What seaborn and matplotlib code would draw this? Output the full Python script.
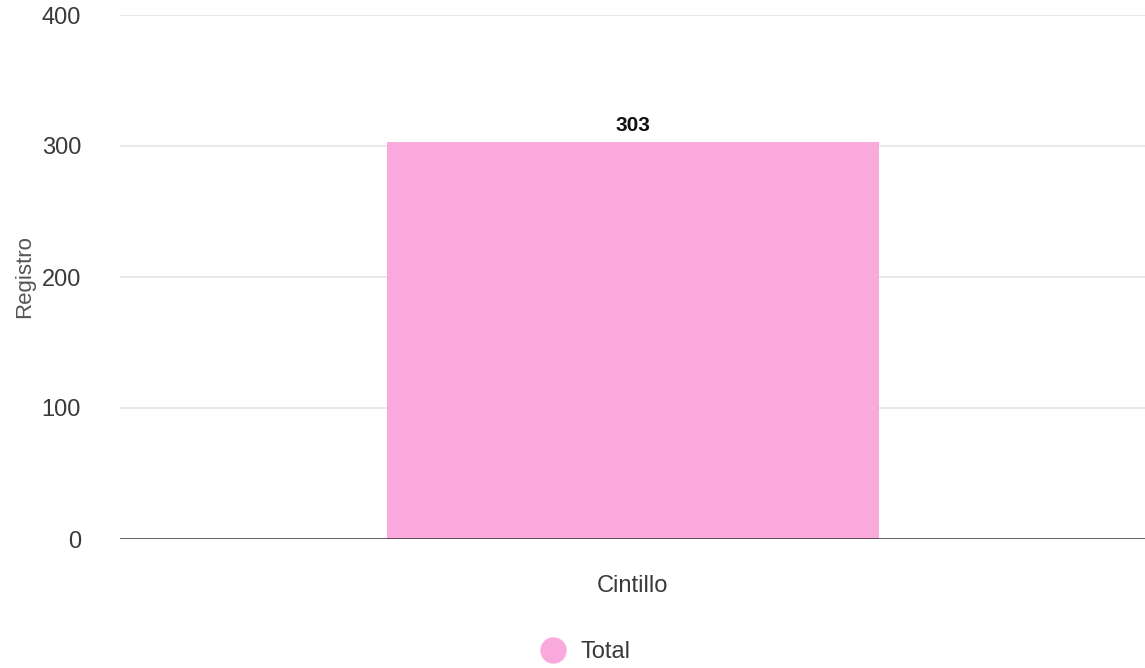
import matplotlib
matplotlib.use("Agg")
import matplotlib.pyplot as plt
import seaborn as sns
import pandas as pd
from matplotlib.lines import Line2D

categories = ["Cintillo"]
values = [303]
series_name = "Total"
y_ticks = [0, 100, 200, 300, 400]
y_label = "Registro"
bar_color = "#F9A9DC"

sns.set_theme(style="white")
plt.rcParams['font.family'] = ['Liberation Sans', 'DejaVu Sans']

df = pd.DataFrame({"cat": categories, "val": values})

fig = plt.figure(figsize=(11.45, 6.68), dpi=100)
ax = fig.add_axes([120/1145, 1-539/668, 1-120/1145, (539-15)/668])

sns.barplot(data=df, x="cat", y="val", color=bar_color, width=0.48, ax=ax,
            saturation=1, edgecolor="none", zorder=2)

ax.set_ylim(0, 400)
ax.set_xlim(-0.5, 0.5)
ax.set_yticks(y_ticks)
ax.set_yticklabels([str(t) for t in y_ticks], fontsize=17, color="#3a3a3a")
ax.tick_params(axis='y', length=0, pad=28)
ax.tick_params(axis='x', length=0, pad=26, labelsize=17, labelcolor="#3a3a3a")
for t in y_ticks[1:]:
    ax.axhline(t, color="#e6e6e6", linewidth=1.3, zorder=1)
ax.axhline(0, color="#333333", linewidth=1.8, zorder=3)
for s in ax.spines.values():
    s.set_visible(False)
ax.set_xlabel("")
ax.set_ylabel(y_label, fontsize=16, color="#555555", labelpad=5)

for p, v in zip(ax.patches, values):
    ax.annotate(str(v), (p.get_x() + p.get_width()/2, p.get_height()),
                xytext=(0, 5), textcoords="offset points", ha="center", va="bottom",
                fontsize=15, fontweight="bold", color="#111111")

handle = Line2D([0], [0], marker='o', color='none', markerfacecolor=bar_color,
                markeredgecolor='none', markersize=19)
fig.legend([handle], [series_name], loc="center", bbox_to_anchor=(580/1145, 1-652/668),
           frameon=False, fontsize=17, handletextpad=0.2, labelcolor="#3a3a3a")

fig.savefig("out.png", dpi=100)
